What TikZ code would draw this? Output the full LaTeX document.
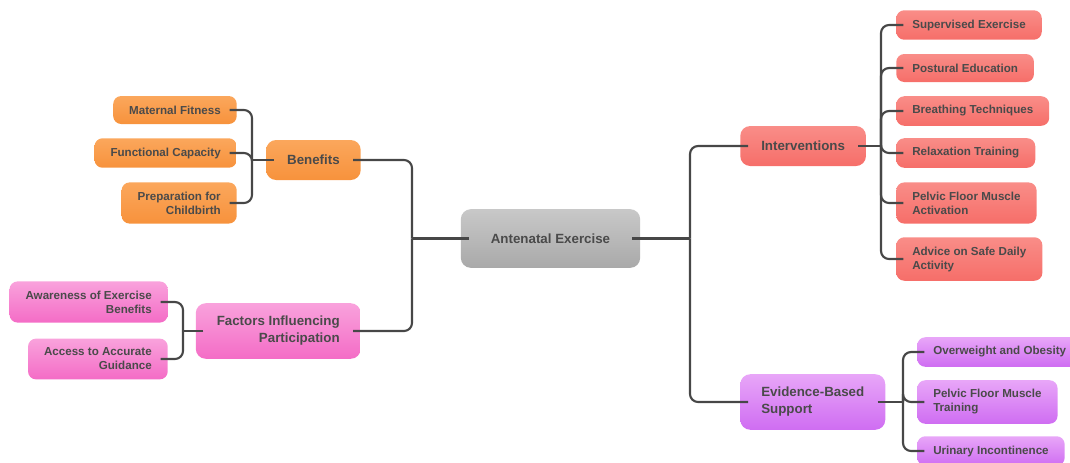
\documentclass[tikz,border=0pt]{standalone}
\usepackage{fontspec}
\setmainfont{Liberation Sans}
\usetikzlibrary{positioning,calc}
\definecolor{linkgray}{HTML}{474747}
\definecolor{txtgray}{HTML}{4A4A4A}
\definecolor{graytop}{HTML}{C8C8C8}
\definecolor{graybot}{HTML}{A9A9A9}
\definecolor{orangetop}{HTML}{FBA75C}
\definecolor{orangebot}{HTML}{F7923C}
\definecolor{pinktop}{HTML}{F9A2DC}
\definecolor{pinkbot}{HTML}{F46CC6}
\definecolor{redtop}{HTML}{F98D88}
\definecolor{redbot}{HTML}{F66E69}
\definecolor{purpletop}{HTML}{E8A6F8}
\definecolor{purplebot}{HTML}{CF6DF2}
\tikzset{
	every picture/.style={
		line cap=butt,
		node distance=5mm and 5mm
}}
\tikzset{
	%分支连线
	link/.style={draw=linkgray,line width=1.6pt,rounded corners=6pt},
	%小节点
	smallbox/.style={rectangle,rounded corners=6pt,inner xsep=12pt,inner ysep=7pt,
		minimum height=21pt,text=txtgray,font=\bfseries\fontsize{8.7}{10.5}\selectfont},
	%一级节点
	bigbox/.style={rectangle,rounded corners=7.5pt,inner xsep=15.75pt,inner ysep=9.8pt,
		minimum height=30pt,text=txtgray,font=\bfseries\fontsize{10}{12.75}\selectfont},
	rootbox/.style={bigbox,inner xsep=22.5pt,minimum height=44pt,top color=graytop,bottom color=graybot},
	orange/.style={top color=orangetop,bottom color=orangebot},
	pink/.style={top color=pinktop,bottom color=pinkbot},
	red/.style={top color=redtop,bottom color=redbot},
	purple/.style={top color=purpletop,bottom color=purplebot}
}

\begin{document}
\begin{tikzpicture}[x=0.75pt,y=-0.75pt]
\useasboundingbox (0,0) rectangle (1070,462);
%中心节点
\node[rootbox] (root) at (550.5,238.5) {Antenatal Exercise};
%左侧分支
\node[bigbox,orange,anchor=east] (ben) at (361,160) {Benefits};
\node[bigbox,pink,anchor=east,align=right] (fac) at (361,331) {Factors Influencing\\Participation};
\node[smallbox,orange,anchor=east] (fit) at (237,110) {Maternal Fitness};
\node[smallbox,orange,anchor=east] (cap) at (237,153) {Functional Capacity};
\node[smallbox,orange,anchor=east,align=right] (prep) at (237,203) {Preparation for\\Childbirth};
\node[smallbox,pink,anchor=east,align=right] (aware) at (168,302) {Awareness of Exercise\\Benefits};
\node[smallbox,pink,anchor=east,align=right] (access) at (168,359) {Access to Accurate\\Guidance};
%右侧分支
\node[bigbox,red,anchor=west] (int) at (740,146) {Interventions};
\node[bigbox,purple,anchor=west,align=left] (evi) at (740,402) {Evidence-Based\\Support};
\node[smallbox,red,anchor=west] (sup) at (896,25) {Supervised Exercise};
\node[smallbox,red,anchor=west] (post) at (896,68) {Postural Education};
\node[smallbox,red,anchor=west] (breath) at (896,111) {Breathing Techniques};
\node[smallbox,red,anchor=west] (relax) at (896,153) {Relaxation Training};
\node[smallbox,red,anchor=west,align=left] (pelvic) at (896,203) {Pelvic Floor Muscle\\Activation};
\node[smallbox,red,anchor=west,align=left] (advice) at (896,259) {Advice on Safe Daily\\Activity};
\node[smallbox,purple,anchor=west] (obes) at (917,352) {Overweight and Obesity};
\node[smallbox,purple,anchor=west,align=left] (pfmt) at (917,402) {Pelvic Floor Muscle\\Training};
\node[smallbox,purple,anchor=west] (urin) at (917,451) {Urinary Incontinence};
%连接点
\coordinate (lj) at (412,238.5);
\coordinate (rj) at (690,238.5);
\coordinate (bj) at (252,160);
\coordinate (fj) at (183,331);
\coordinate (ij) at (881,146);
\coordinate (ej) at (903,402);
%连线
\draw[link] ([xshift=6pt]root.west) -- (lj);
\draw[link] ([xshift=-6pt]ben.east) -| (lj);
\draw[link] ([xshift=-6pt]fac.east) -| (lj);
\draw[link] ([xshift=-6pt]root.east) -- (rj);
\draw[link] ([xshift=6pt]int.west) -| (rj);
\draw[link] ([xshift=6pt]evi.west) -| (rj);
\draw[link] ([xshift=6pt]ben.west) -- (bj);
\foreach \c in {fit,cap,prep}
	\draw[link] ([xshift=-5.5pt]\c.east) -| (bj);
\draw[link] ([xshift=6pt]fac.west) -- (fj);
\foreach \c in {aware,access}
	\draw[link] ([xshift=-5.5pt]\c.east) -| (fj);
\draw[link] ([xshift=-6pt]int.east) -- (ij);
\foreach \c in {sup,post,breath,relax,pelvic,advice}
	\draw[link] ([xshift=5.5pt]\c.west) -| (ij);
\draw[link] ([xshift=-6pt]evi.east) -- (ej);
\foreach \c in {obes,pfmt,urin}
	\draw[link] ([xshift=5.5pt]\c.west) -| (ej);
\end{tikzpicture}
\end{document}
